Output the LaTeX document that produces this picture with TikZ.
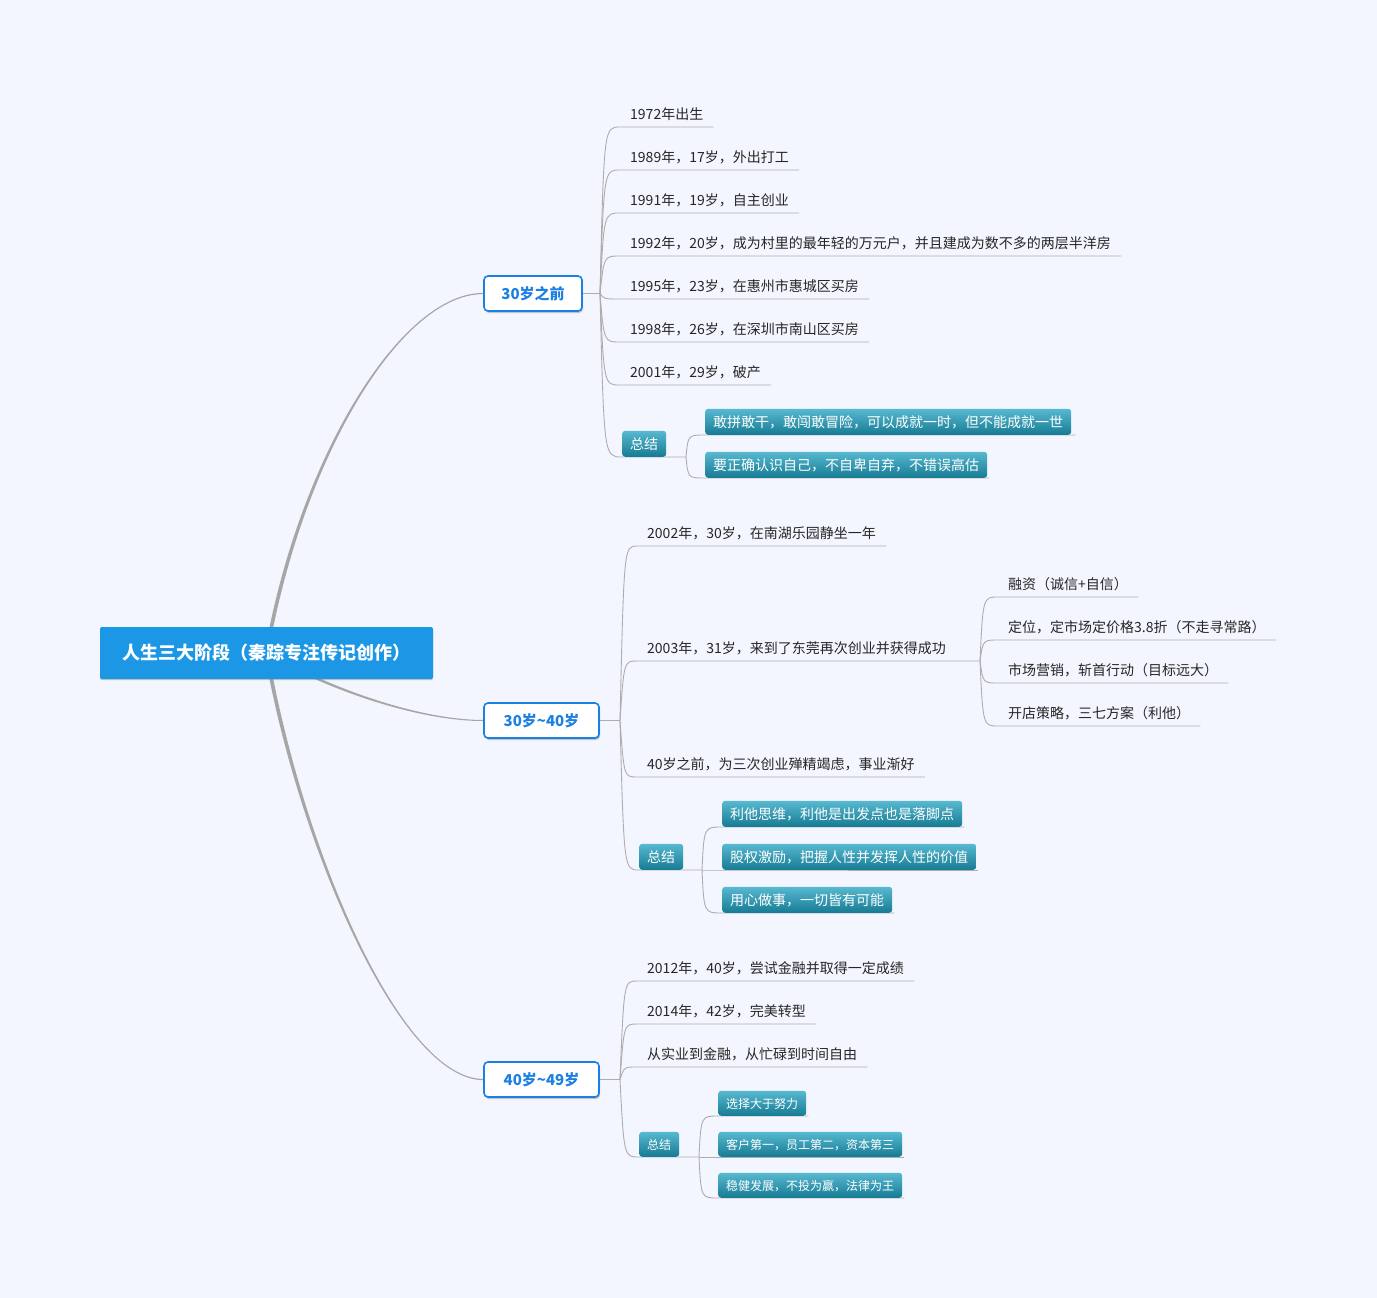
\documentclass[tikz,border=0pt]{standalone}
\usepackage{fontspec}
\setmainfont{Noto Sans CJK SC}
\usetikzlibrary{calc,shadows}
\definecolor{bg}{HTML}{F3F6FE}
\definecolor{linegray}{HTML}{ADADAD}
\definecolor{branchgray}{HTML}{A6A6A6}
\definecolor{rootblue}{HTML}{1B97E6}
\definecolor{lvlblue}{HTML}{1C7FE2}
\definecolor{tealtop}{HTML}{58B9D0}
\definecolor{tealbot}{HTML}{167B94}
\definecolor{textdark}{HTML}{262626}
\pgfdeclarelayer{bglayer}
\pgfdeclarelayer{connlayer}
\pgfsetlayers{bglayer,connlayer,main}
\tikzset{
  conn/.style={draw=linegray, line width=0.9pt},
  leaf/.style={anchor=south west, inner xsep=10pt, inner ysep=4.5pt, text height=11pt, text depth=3pt,
    font=\fontsize{14}{16}\selectfont, text=textdark},
  tealbox/.style={anchor=south west, rounded corners=3pt, top color=tealtop, bottom color=tealbot,
    text=white, minimum height=26pt, inner xsep=8pt, inner ysep=0pt, text height=13pt, text depth=1pt,
    font=\fontsize{14}{16}\selectfont},
  stealbox/.style={tealbox, minimum height=25pt, text height=11.5pt, text depth=1.5pt, font=\fontsize{12}{14}\selectfont},
  lvlbox/.style={draw=lvlblue, line width=1.6pt, fill=white, rounded corners=4pt, minimum height=35pt,
    font=\bfseries\fontsize{15}{17}\selectfont, text=lvlblue,
    drop shadow={shadow xshift=1pt, shadow yshift=-2pt, opacity=0.35, fill=black!60}},
  rootbox/.style={fill=rootblue, rounded corners=2pt, minimum width=333pt, minimum height=52pt,
    font=\bfseries\fontsize{18}{20}\selectfont, text=white,
    drop shadow={shadow xshift=0pt, shadow yshift=-1.2pt, opacity=0.4, fill=black!50}},
}
\begin{document}
\begin{tikzpicture}[x=1pt,y=-1pt]
\useasboundingbox (0,0) rectangle (1377,1298);
\begin{pgfonlayer}{bglayer}
\fill[bg] (0,0) rectangle (1377,1298);
\end{pgfonlayer}

% root and level 1
\node[rootbox] (root) at (266.5,653) {人生三大阶段（秦踪专注传记创作）};
\node[lvlbox, minimum width=98pt] (n1) at (533,293.5) {30岁之前};
\node[lvlbox, minimum width=115pt] (n2) at (541.5,720.5) {30岁\symbol{"7E}40岁};
\node[lvlbox, minimum width=115pt] (n3) at (541.5,1079.5) {40岁\symbol{"7E}49岁};

% group 1
\node[leaf] (a1) at (620,127) {1972年出生};
\node[leaf] (a2) at (620,170) {1989年，17岁，外出打工};
\node[leaf] (a3) at (620,213) {1991年，19岁，自主创业};
\node[leaf] (a4) at (620,256) {1992年，20岁，成为村里的最年轻的万元户，并且建成为数不多的两层半洋房};
\node[leaf] (a5) at (620,299) {1995年，23岁，在惠州市惠城区买房};
\node[leaf] (a6) at (620,342) {1998年，26岁，在深圳市南山区买房};
\node[leaf] (a7) at (620,385) {2001年，29岁，破产};
\node[tealbox] (as) at (622,457) {总结};
\node[tealbox] (as1) at (705,435) {敢拼敢干，敢闯敢冒险，可以成就一时，但不能成就一世};
\node[tealbox] (as2) at (705,478) {要正确认识自己，不自卑自弃，不错误高估};

% group 2
\node[leaf] (b1) at (637,546) {2002年，30岁，在南湖乐园静坐一年};
\node[leaf] (b2) at (637,661) {2003年，31岁，来到了东莞再次创业并获得成功};
\node[leaf] (b3) at (637,777) {40岁之前，为三次创业殚精竭虑，事业渐好};
\node[leaf] (c1) at (998,597) {融资（诚信+自信）};
\node[leaf] (c2) at (998,640) {定位，定市场定价格3.8折（不走寻常路）};
\node[leaf] (c3) at (998,683) {市场营销，斩首行动（目标远大）};
\node[leaf] (c4) at (998,726) {开店策略，三七方案（利他）};
\node[tealbox] (bs) at (639,870) {总结};
\node[tealbox] (bs1) at (722,827) {利他思维，利他是出发点也是落脚点};
\node[tealbox] (bs2) at (722,870) {股权激励，把握人性并发挥人性的价值};
\node[tealbox] (bs3) at (722,913) {用心做事，一切皆有可能};

% group 3
\node[leaf] (d1) at (637,981) {2012年，40岁，尝试金融并取得一定成绩};
\node[leaf] (d2) at (637,1024) {2014年，42岁，完美转型};
\node[leaf] (d3) at (637,1067) {从实业到金融，从忙碌到时间自由};
\node[stealbox] (ds) at (639,1157) {总结};
\node[stealbox] (ds1) at (718,1116) {选择大于努力};
\node[stealbox] (ds2) at (718,1157) {客户第一，员工第二，资本第三};
\node[stealbox] (ds3) at (718,1198) {稳健发展，不投为赢，法律为王};

% junctions
\coordinate (j1) at (600,293.5);
\coordinate (j2) at (620,720.5);
\coordinate (j3) at (620,1079.5);
\coordinate (k2) at (980,661);
\coordinate (js1) at (686,457);
\coordinate (js2) at (702,870);
\coordinate (js3) at (699,1157);

\begin{pgfonlayer}{connlayer}
% main tapered branches
\fill[branchgray] ($(root.center)+(-1.9,0)$) .. controls (298.1,460) and (400,292.8) .. ($(n1.west)+(0,-0.6)$)
  -- ($(n1.west)+(0,0.6)$) .. controls (400,294.2) and (301.9,460) .. ($(root.center)+(1.9,0)$) -- cycle;
\fill[branchgray] ($(root.center)+(0,-1.6)$) .. controls (330,688.7) and (420,719.8) .. ($(n2.west)+(0,-0.5)$)
  -- ($(n2.west)+(0,0.5)$) .. controls (420,721.2) and (330,691.3) .. ($(root.center)+(0,1.6)$) -- cycle;
\fill[branchgray] ($(root.center)+(-1.9,0)$) .. controls (298.1,846) and (400,1080.2) .. ($(n3.west)+(0,0.6)$)
  -- ($(n3.west)+(0,-0.6)$) .. controls (400,1078.8) and (301.9,846) .. ($(root.center)+(1.9,0)$) -- cycle;

% group 1 connectors
\draw[conn] (n1.east) -- (j1);
\foreach \n in {a1,a2,a3,a4,a5,a6,a7}{
  \draw[conn] (j1) .. controls ($(j1 |- \n.south west)+(4,0)$) .. (\n.south west) -- (\n.south east);
}
\draw[conn] (j1) .. controls ($(j1 |- as.south west)+(4,0)$) .. (as.south west) -- (as.south east) -- (js1);
\draw[conn] (js1) .. controls ($(js1 |- as1.south west)+(2,0)$) .. (as1.south west) -- ($(as1.south east)+(4,0)$);
\draw[conn] (js1) .. controls ($(js1 |- as2.south west)+(2,0)$) .. (as2.south west) -- ($(as2.south east)+(2,0)$);

% group 2 connectors
\draw[conn] (n2.east) -- (j2);
\foreach \n in {b1,b3}{
  \draw[conn] (j2) .. controls ($(j2 |- \n.south west)+(4,0)$) .. (\n.south west) -- (\n.south east);
}
\draw[conn] (j2) .. controls ($(j2 |- b2.south west)+(4,0)$) .. (b2.south west) -- (b2.south east) -- (k2);
\foreach \n in {c1,c2,c3,c4}{
  \draw[conn] (k2) .. controls ($(k2 |- \n.south west)+(3,0)$) .. (\n.south west) -- (\n.south east);
}
\draw[conn] (j2) .. controls ($(j2 |- bs.south west)+(4,0)$) .. (bs.south west) -- (bs.south east) -- (js2);
\foreach \n in {bs1,bs2,bs3}{
  \draw[conn] (js2) .. controls ($(js2 |- \n.south west)+(2,0)$) .. (\n.south west) -- ($(\n.south east)+(2,0)$);
}

% group 3 connectors
\draw[conn] (n3.east) -- (j3);
\foreach \n in {d1,d2,d3}{
  \draw[conn] (j3) .. controls ($(j3 |- \n.south west)+(4,0)$) .. (\n.south west) -- (\n.south east);
}
\draw[conn] (j3) .. controls ($(j3 |- ds.south west)+(4,0)$) .. (ds.south west) -- (ds.south east) -- (js3);
\foreach \n in {ds1,ds2,ds3}{
  \draw[conn] (js3) .. controls ($(js3 |- \n.south west)+(2,0)$) .. (\n.south west) -- ($(\n.south east)+(2,0)$);
}
\end{pgfonlayer}
\end{tikzpicture}
\end{document}
